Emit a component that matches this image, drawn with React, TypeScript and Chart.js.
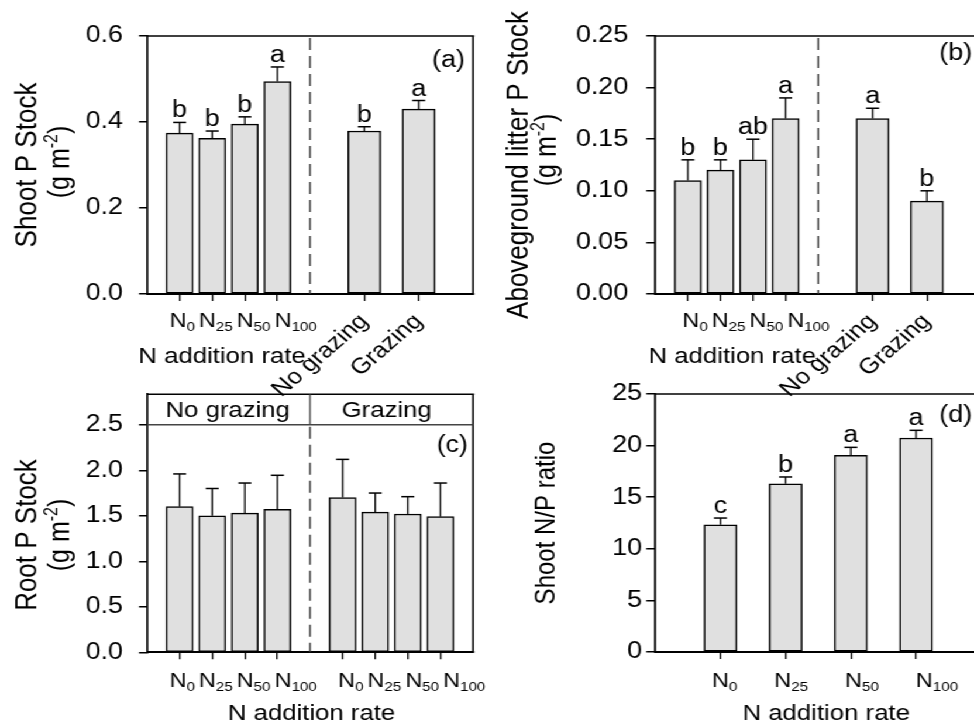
import React, { useEffect, useRef } from 'react';
import { Chart, registerables } from 'chart.js';

Chart.register(...registerables);

// The original figure is horizontally stretched; we draw in an unstretched
// canvas space and stretch it back with a CSS scaleX.
const S = 1.17;
const FONT = '"Liberation Sans", Arial, Helvetica, sans-serif';
const INK = '#000';
const BAR_FILL = '#e0e0e0';

// ---------------- data ----------------
const nRates = ['0', '25', '50', '100'];
const grazingLevels = ['No grazing', 'Grazing'];
const xTitleText = 'N addition rate';

// (a) Shoot P stock
const shootP = [0.374, 0.362, 0.395, 0.494];
const shootPErr = [0.025, 0.017, 0.017, 0.034];
const shootPSig = ['b', 'b', 'b', 'a'];
const shootPGrazing = [0.379, 0.43];
const shootPGrazingErr = [0.01, 0.02];
const shootPGrazingSig = ['b', 'a'];
const shootPTicks = [0, 0.2, 0.4, 0.6];

// (b) Aboveground litter P stock
const litterP = [0.11, 0.12, 0.13, 0.17];
const litterPErr = [0.02, 0.01, 0.02, 0.02];
const litterPSig = ['b', 'b', 'ab', 'a'];
const litterPGrazing = [0.17, 0.09];
const litterPGrazingErr = [0.01, 0.01];
const litterPGrazingSig = ['a', 'b'];
const litterPTicks = [0, 0.05, 0.1, 0.15, 0.2, 0.25];

// (c) Root P stock
const rootPNoGrazing = [1.6, 1.5, 1.53, 1.57];
const rootPNoGrazingErr = [0.36, 0.3, 0.33, 0.375];
const rootPGrazing = [1.7, 1.54, 1.52, 1.49];
const rootPGrazingErr = [0.42, 0.21, 0.19, 0.37];
const rootPTicks = [0, 0.5, 1, 1.5, 2, 2.5];

// (d) Shoot N/P ratio
const shootNP = [12.33, 16.3, 19.06, 20.74];
const shootNPErr = [0.65, 0.66, 0.77, 0.74];
const shootNPSig = ['c', 'b', 'a', 'a'];
const shootNPTicks = [0, 5, 10, 15, 20, 25];

// ---------------- layout (category slots on the x scale) ----------------
const SLOTS_N = [3, 6, 9, 12];
const SLOTS_GRAZING = [20, 25];
const SLOTS_N_GRAZED = [18, 21, 24, 27];
const SLOTS_D = [1, 2, 3, 4];
const DIVIDER_SLOT = 15;
const SLOT_MAX = 30;
const HEADER_VALUE = 2.5;

type DS = { slots: number[]; values: number[]; errs: number[]; sig?: string[]; width: number };
type NGroup = { firstSlot: number; subs: string[]; offset: number; gap: number };
type RotLabel = { slot: number; text: string };
type Panel = {
  left: number; top: number; width: number; height: number;
  area: { l: number; r: number; t: number; b: number };
  xMax: number; yMax: number; yTicks: number[]; decimals: number;
  tickLen: number; tickPad: number;
  datasets: DS[];
  nGroups: NGroup[]; nBaseline: number;
  rotLabels: RotLabel[]; rotY: number;
  xTitle: { x: number; y: number };
  yTitle: { text: string; x: number; y: number; size: number };
  yUnit?: { x: number; y: number };
  tag: { text: string; right: number; y: number };
  divider?: number;
  header?: { value: number; baseline: number; texts: { text: string; x: number }[] };
};

const panels: Panel[] = [
  {
    left: 0, top: 0, width: 490, height: 400,
    area: { l: 147, r: 473, t: 36, b: 294 },
    xMax: SLOT_MAX, yMax: 0.6, yTicks: shootPTicks, decimals: 1, tickLen: 8, tickPad: 16,
    datasets: [
      { slots: SLOTS_N, values: shootP, errs: shootPErr, sig: shootPSig, width: 27 },
      { slots: SLOTS_GRAZING, values: shootPGrazing, errs: shootPGrazingErr, sig: shootPGrazingSig, width: 33 },
    ],
    nGroups: [{ firstSlot: SLOTS_N[0], subs: nRates, offset: -10, gap: 4 }], nBaseline: 327,
    rotLabels: SLOTS_GRAZING.map((s, i) => ({ slot: s, text: grazingLevels[i] })), rotY: 318,
    xTitle: { x: 222, y: 363 },
    yTitle: { text: 'Shoot P Stock', x: 36, y: 165, size: 26 },
    yUnit: { x: 68.5, y: 162 },
    tag: { text: '(a)', right: 465, y: 61 },
    divider: DIVIDER_SLOT,
  },
  {
    left: 490, top: 0, width: 510, height: 400,
    area: { l: 655, r: 981, t: 36, b: 294 },
    xMax: SLOT_MAX, yMax: 0.25, yTicks: litterPTicks, decimals: 2, tickLen: 9, tickPad: 18,
    datasets: [
      { slots: SLOTS_N, values: litterP, errs: litterPErr, sig: litterPSig, width: 27 },
      { slots: SLOTS_GRAZING, values: litterPGrazing, errs: litterPGrazingErr, sig: litterPGrazingSig, width: 33 },
    ],
    nGroups: [{ firstSlot: SLOTS_N[0], subs: nRates, offset: -5.5, gap: 4 }], nBaseline: 327,
    rotLabels: SLOTS_GRAZING.map((s, i) => ({ slot: s, text: grazingLevels[i] })), rotY: 318,
    xTitle: { x: 732, y: 363 },
    yTitle: { text: 'Aboveground litter P Stock', x: 527, y: 165, size: 26 },
    yUnit: { x: 556, y: 150 },
    tag: { text: '(b)', right: 972, y: 54 },
    divider: DIVIDER_SLOT,
  },
  {
    left: 0, top: 355, width: 490, height: 371,
    area: { l: 147, r: 473, t: 394.3, b: 652.3 },
    xMax: SLOT_MAX, yMax: 2.835, yTicks: rootPTicks, decimals: 1, tickLen: 8, tickPad: 16,
    datasets: [
      { slots: SLOTS_N, values: rootPNoGrazing, errs: rootPNoGrazingErr, width: 27 },
      { slots: SLOTS_N_GRAZED, values: rootPGrazing, errs: rootPGrazingErr, width: 27 },
    ],
    nGroups: [
      { firstSlot: SLOTS_N[0], subs: nRates, offset: -10, gap: 4 },
      { firstSlot: SLOTS_N_GRAZED[0], subs: nRates, offset: -4.5, gap: 4 },
    ],
    nBaseline: 686.5,
    rotLabels: [], rotY: 0,
    xTitle: { x: 311.5, y: 720 },
    yTitle: { text: 'Root P Stock', x: 36, y: 535, size: 26 },
    yUnit: { x: 68.5, y: 535 },
    tag: { text: '(c)', right: 468, y: 446 },
    divider: DIVIDER_SLOT,
    header: {
      value: HEADER_VALUE, baseline: 417,
      texts: [{ text: grazingLevels[0], x: 227.7 }, { text: grazingLevels[1], x: 386.7 }],
    },
  },
  {
    left: 490, top: 355, width: 510, height: 371,
    area: { l: 655, r: 981, t: 394, b: 652 },
    xMax: 5, yMax: 25, yTicks: shootNPTicks, decimals: 0, tickLen: 9, tickPad: 4,
    datasets: [{ slots: SLOTS_D, values: shootNP, errs: shootNPErr, sig: shootNPSig, width: 33 }],
    nGroups: [{ firstSlot: SLOTS_D[0], subs: nRates, offset: -8.5, gap: 37 }], nBaseline: 686.5,
    rotLabels: [], rotY: 0,
    xTitle: { x: 826, y: 720 },
    yTitle: { text: 'Shoot N/P ratio', x: 554, y: 523, size: 24 },
    tag: { text: '(d)', right: 972, y: 416 },
  },
];

type Part = { t: string; size: number; dy: number };

function partsWidth(ctx: CanvasRenderingContext2D, parts: Part[]) {
  let w = 0;
  for (const p of parts) {
    ctx.font = `${p.size}px ${FONT}`;
    w += ctx.measureText(p.t).width;
  }
  return w;
}

function drawParts(ctx: CanvasRenderingContext2D, parts: Part[], x: number, y: number) {
  let cx = x;
  ctx.textAlign = 'left';
  ctx.textBaseline = 'alphabetic';
  for (const p of parts) {
    ctx.font = `${p.size}px ${FONT}`;
    ctx.fillText(p.t, cx, y + p.dy);
    cx += ctx.measureText(p.t).width;
  }
  return cx - x;
}

function line(ctx: CanvasRenderingContext2D, x1: number, y1: number, x2: number, y2: number) {
  ctx.beginPath();
  ctx.moveTo(x1, y1);
  ctx.lineTo(x2, y2);
  ctx.stroke();
}

function makePlugin(p: Panel) {
  const tx = (x: number) => (x - p.left) / S;
  const ty = (y: number) => y - p.top;
  return {
    id: 'panelDecor',
    afterDatasetsDraw(chart: any) {
      const ctx: CanvasRenderingContext2D = chart.ctx;
      const yS = chart.scales.y;
      ctx.save();
      ctx.strokeStyle = INK;
      ctx.fillStyle = INK;
      const cap = 13 / S;
      p.datasets.forEach((d, di) => {
        const meta = chart.getDatasetMeta(di);
        meta.data.forEach((bar: any, i: number) => {
          const x = bar.x;
          const y1 = yS.getPixelForValue(d.values[i] + d.errs[i]);
          ctx.lineWidth = 1.5 / S;
          line(ctx, x, bar.y, x, y1);
          ctx.lineWidth = 1.5;
          line(ctx, x - cap / 2, y1, x + cap / 2, y1);
          if (d.sig) {
            ctx.font = `23px ${FONT}`;
            ctx.textAlign = 'center';
            ctx.textBaseline = 'alphabetic';
            ctx.fillText(d.sig[i], x, y1 - 5);
          }
        });
      });
      ctx.restore();
    },
    afterDraw(chart: any) {
      const ctx: CanvasRenderingContext2D = chart.ctx;
      const a = chart.chartArea;
      const xS = chart.scales.x;
      const yS = chart.scales.y;
      ctx.save();
      ctx.strokeStyle = INK;
      ctx.fillStyle = INK;
      // frame (top + right)
      ctx.lineWidth = 1.5;
      line(ctx, a.left, a.top, a.right + 1, a.top);
      ctx.lineWidth = 1.8 / S;
      line(ctx, a.right, a.top, a.right, a.bottom);

      let dashTop = a.top;
      if (p.header) {
        const hy = yS.getPixelForValue(p.header.value);
        ctx.strokeStyle = '#444';
        ctx.lineWidth = 1.5;
        line(ctx, a.left, hy, a.right, hy);
        if (p.divider !== undefined) {
          const dx = xS.getPixelForValue(p.divider);
          ctx.lineWidth = 1.5 / S;
          line(ctx, dx, a.top, dx, hy);
        }
        dashTop = hy;
        ctx.fillStyle = INK;
        ctx.font = `22px ${FONT}`;
        ctx.textAlign = 'center';
        ctx.textBaseline = 'alphabetic';
        for (const t of p.header.texts) ctx.fillText(t.text, tx(t.x), ty(p.header.baseline));
      }
      if (p.divider !== undefined) {
        const dx = xS.getPixelForValue(p.divider);
        ctx.save();
        ctx.strokeStyle = '#333';
        ctx.lineWidth = 1.6 / S;
        ctx.setLineDash([12, 6]);
        line(ctx, dx, dashTop + 2, dx, a.bottom);
        ctx.restore();
      }

      ctx.fillStyle = INK;
      // N tick labels (N with subscripts)
      for (const g of p.nGroups) {
        let x = xS.getPixelForValue(g.firstSlot) + g.offset / S;
        for (const sub of g.subs) {
          const w = drawParts(ctx, [
            { t: 'N', size: 20, dy: 0 },
            { t: sub, size: 13, dy: 4 },
          ], x, ty(p.nBaseline));
          x += w + g.gap / S;
        }
      }
      // rotated category labels
      for (const r of p.rotLabels) {
        ctx.save();
        ctx.translate(xS.getPixelForValue(r.slot), ty(p.rotY));
        ctx.rotate(-Math.PI / 4);
        ctx.font = `22px ${FONT}`;
        ctx.textAlign = 'right';
        ctx.textBaseline = 'middle';
        ctx.fillText(r.text, 0, 0);
        ctx.restore();
      }
      // x title
      ctx.font = `22px ${FONT}`;
      ctx.textAlign = 'center';
      ctx.textBaseline = 'alphabetic';
      ctx.fillText(xTitleText, tx(p.xTitle.x), ty(p.xTitle.y));
      // y title
      ctx.save();
      ctx.translate(tx(p.yTitle.x), ty(p.yTitle.y));
      ctx.rotate(-Math.PI / 2);
      ctx.font = `${p.yTitle.size}px ${FONT}`;
      ctx.textAlign = 'center';
      ctx.textBaseline = 'alphabetic';
      ctx.fillText(p.yTitle.text, 0, 0);
      ctx.restore();
      if (p.yUnit) {
        const parts: Part[] = [
          { t: '(g m', size: 25, dy: 0 },
          { t: '-2', size: 16, dy: -10 },
          { t: ')', size: 25, dy: 0 },
        ];
        ctx.save();
        ctx.translate(tx(p.yUnit.x), ty(p.yUnit.y));
        ctx.rotate(-Math.PI / 2);
        const w = partsWidth(ctx, parts);
        drawParts(ctx, parts, -w / 2, 0);
        ctx.restore();
      }
      // panel tag
      ctx.font = `23px ${FONT}`;
      ctx.textAlign = 'right';
      ctx.textBaseline = 'middle';
      ctx.fillText(p.tag.text, tx(p.tag.right), ty(p.tag.y));
      ctx.restore();
    },
  };
}

function buildConfig(p: Panel, w: number): any {
  const allSlots = p.datasets.flatMap((d) => d.slots);
  const areaRight = (p.area.r - p.left) / S;
  return {
    type: 'bar',
    data: {
      datasets: p.datasets.map((d) => ({
        data: d.slots.map((s, i) => ({ x: s, y: d.values[i] })),
        backgroundColor: BAR_FILL,
        borderColor: INK,
        borderWidth: 1.5,
        borderSkipped: false,
        grouped: false,
        barThickness: d.width / S,
      })),
    },
    options: {
      responsive: false,
      animation: false,
      events: [],
      layout: { padding: { left: 0, right: w - areaRight, top: p.area.t - p.top, bottom: 0 } },
      plugins: { legend: { display: false }, tooltip: { enabled: false } },
      scales: {
        x: {
          type: 'linear',
          min: 0,
          max: p.xMax,
          offset: false,
          bounds: 'data',
          afterBuildTicks: (s: any) => {
            s.ticks = allSlots.map((v) => ({ value: v }));
          },
          afterFit: (s: any) => {
            s.height = p.top + p.height - p.area.b;
          },
          ticks: { display: false, autoSkip: false },
          grid: {
            display: true,
            drawOnChartArea: false,
            drawTicks: true,
            tickLength: 7,
            color: INK,
            lineWidth: 1.5 / S,
            tickWidth: 1.5 / S,
            offset: false,
          },
          border: { display: true, color: INK, width: 2 },
        },
        y: {
          type: 'linear',
          min: 0,
          max: p.yMax,
          bounds: 'data',
          afterBuildTicks: (s: any) => {
            s.ticks = p.yTicks.map((v) => ({ value: v }));
          },
          afterFit: (s: any) => {
            s.width = (p.area.l - p.left) / S;
          },
          ticks: {
            autoSkip: false,
            color: INK,
            padding: p.tickPad / S,
            font: { family: FONT, size: 23 },
            callback: (v: any) => Number(v).toFixed(p.decimals),
          },
          grid: {
            drawOnChartArea: false,
            drawTicks: true,
            tickLength: p.tickLen / S,
            color: INK,
            lineWidth: 1.5,
            tickWidth: 1.5,
          },
          border: { display: true, color: INK, width: 2 / S },
        },
      },
    },
    plugins: [makePlugin(p)],
  };
}

function PanelChart({ p }: { p: Panel }) {
  const ref = useRef<HTMLCanvasElement>(null);
  const w = Math.round(p.width / S);
  useEffect(() => {
    if (!ref.current) return;
    const chart = new Chart(ref.current, buildConfig(p, w));
    return () => chart.destroy();
  }, []);
  return (
    <canvas
      ref={ref}
      width={w}
      height={p.height}
      style={{ position: 'absolute', left: p.left / S, top: p.top, width: w, height: p.height }}
    />
  );
}

export default function App() {
  return (
    <div
      style={{
        position: 'fixed',
        left: 0,
        top: 0,
        width: 974,
        height: 726,
        overflow: 'hidden',
        background: '#fff',
      }}
    >
      <div
        style={{
          position: 'absolute',
          left: 0,
          top: 0,
          width: 1000 / S,
          height: 726,
          transform: `scaleX(${S})`,
          transformOrigin: '0 0',
        }}
      >
        {panels.map((p, i) => (
          <PanelChart key={i} p={p} />
        ))}
      </div>
    </div>
  );
}
